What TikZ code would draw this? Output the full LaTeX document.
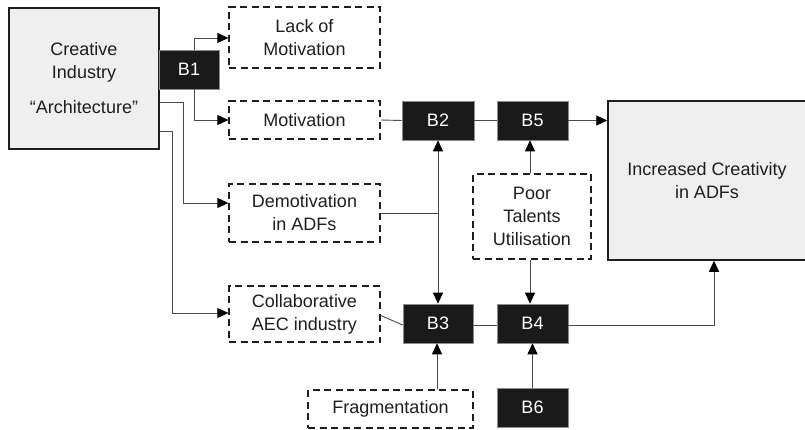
\documentclass[tikz,border=0pt]{standalone}
\usepackage{fontspec}
\setmainfont{Liberation Sans}
\usetikzlibrary{arrows.meta,calc}
\definecolor{boxfill}{HTML}{EFEFEF}
\definecolor{ink}{HTML}{1E1E1E}
\definecolor{bfill}{HTML}{1A1A1A}
\definecolor{linec}{HTML}{4A4A4A}
\begin{document}
\begin{tikzpicture}[x=1pt,y=-1pt,
  every node/.style={font=\fontsize{18}{23}\selectfont, text=ink, inner sep=0pt, align=center},
  bigbox/.style={draw=ink, line width=1.5pt, fill=boxfill},
  dbox/.style={draw=ink, line width=1.3pt, dash pattern=on 7pt off 4.5pt},
  bbox/.style={draw=black!45, line width=0.6pt, fill=bfill, text=white, minimum width=71pt, minimum height=39pt},
  conn/.style={draw=linec, line width=0.9pt},
  tip/.tip={Triangle[length=11pt,width=10pt,fill=black,color=black]},
  arr/.style={conn, -tip},
  arr2/.style={conn, tip-tip}
]
\useasboundingbox (0,0) rectangle (805,430);
\fill[white] (0,0) rectangle (805,430);

% nodes
\node[bigbox, minimum width=150pt, minimum height=141pt] (ci) at (84,78.5)
  {Creative\\Industry\\[12pt]“Architecture”};
\node[bbox, minimum width=60pt] (b1) at (189,69.5) {B1};
\node[dbox, minimum width=151pt, minimum height=61pt] (lack) at (304.5,37.5) {Lack of\\Motivation};
\node[dbox, minimum width=151pt, minimum height=38pt] (mot) at (304.5,120) {Motivation};
\node[dbox, minimum width=151pt, minimum height=58pt] (dem) at (304.5,213) {Demotivation\\in ADFs};
\node[dbox, minimum width=151pt, minimum height=56pt] (col) at (304.5,314) {Collaborative\\AEC industry};
\node[bbox, minimum width=72pt] (b2) at (438,120.5) {B2};
\node[bbox] (b5) at (532.5,120.5) {B5};
\node[bigbox, minimum width=198pt, minimum height=159pt] (inc) at (707,180.5) {Increased Creativity\\in ADFs};
\node[dbox, minimum width=118pt, minimum height=85pt] (poor) at (532,216.5) {Poor\\Talents\\Utilisation};
\node[bbox, minimum width=70pt] (b3) at (438,323.5) {B3};
\node[bbox] (b4) at (532.5,323.5) {B4};
\node[dbox, minimum width=165pt, minimum height=38pt] (frag) at (390.5,409) {Fragmentation};
\node[bbox] (b6) at (532.5,407.5) {B6};

% connectors
\draw[arr] ([xshift=5pt]b1.north) |- ([yshift=-0.5pt]lack.west);
\draw[arr] ([xshift=5pt]b1.south) |- (mot.west);
\draw[arr] ([yshift=-23.5pt]ci.east) -- ++(24,0) |- ([yshift=10pt]dem.west);
\draw[arr] ([yshift=-52.5pt]ci.east) -- ++(13,0) |- ([yshift=1pt]col.west);
\draw[conn] (mot.east) -- (b2.west);
\draw[conn] (b2.east) -- (b5.west);
\draw[arr] (b5.east) -- (inc.west |- b5.east);
\draw[arr2] (b2.south) -- (b3.north);
\draw[conn] (dem.east) -- (dem.east -| b2.south);
\coordinate (px) at ([xshift=-2pt]poor.north);
\draw[arr] (px) -- (px |- b5.south);
\coordinate (pxs) at ([xshift=-2pt]poor.south);
\draw[arr] (pxs) -- (pxs |- b4.north);
\draw[conn] ([yshift=-1.5pt]col.east) -- ([yshift=-1.5pt]b3.west);
\draw[conn] ([yshift=-1.5pt]b3.east) -- ([yshift=-1.5pt]b4.west);
\draw[arr] ([yshift=-1.5pt]b4.east) -| ([xshift=7pt]inc.south);
\coordinate (fx) at ([xshift=-1pt]b3.south |- frag.north);
\draw[arr] (fx) -- (fx |- b3.south);
\draw[arr] (b6.north) -- (b4.south);
\end{tikzpicture}
\end{document}
